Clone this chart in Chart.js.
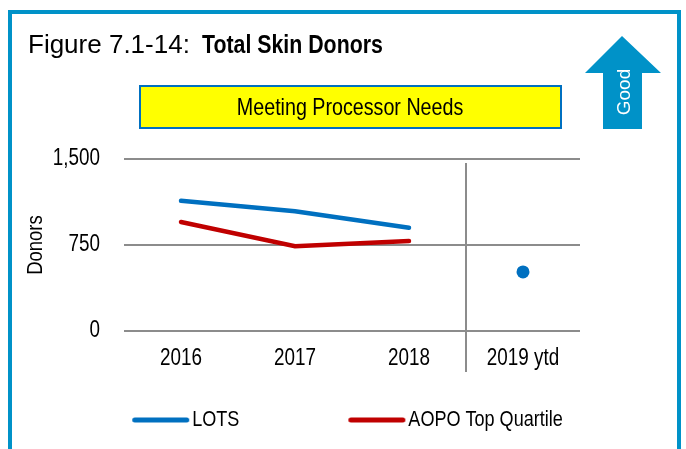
<!DOCTYPE html>
<html>
<head>
<meta charset="utf-8">
<script src="https://cdn.jsdelivr.net/npm/chart.js@4.4.1/dist/chart.umd.min.js"></script>
<style>
  html, body { margin: 0; padding: 0; background: #fff; }
  body { width: 686px; height: 449px; position: relative; overflow: hidden; }
  #frame { position: absolute; left: 8px; top: 10px; width: 673px; height: 500px; box-sizing: border-box; border: 4px solid #0092c8; }
  #title { position: absolute; left: 28px; top: 31px; font: 26px 'Liberation Sans', Arial, sans-serif; line-height: 26px; color: #000; white-space: nowrap; }
  #title b { display: inline-block; margin-left: 12px; transform: scaleX(0.82); transform-origin: left center; }
  #banner { position: absolute; left: 139px; top: 85px; width: 423px; height: 44px; box-sizing: border-box; border: 2px solid #0070c0; background: #ffff00; text-align: center; color: #000; }
  #banner span { display: inline-block; font: 24px 'Liberation Sans', Arial, sans-serif; line-height: 40px; transform: scaleX(0.82); }
  #good { position: absolute; left: 0; top: 0; }
  canvas { position: absolute; left: 0; top: 0; }
</style>
</head>
<body>
<canvas id="donorsChart" width="686" height="449"></canvas>
<div id="frame"></div>
<div id="title">Figure 7.1-14:<b>Total Skin Donors</b></div>
<div id="banner"><span>Meeting Processor Needs</span></div>
<svg id="good" width="686" height="449">
  <polygon points="622,36 661,73 642,73 642,129 603,129 603,73 585,73" fill="#0092c8"/>
  <text x="623" y="92" transform="rotate(-90 623 92)" text-anchor="middle" dominant-baseline="central" fill="#fff" font-family="Liberation Sans, Arial, sans-serif" font-size="19">Good</text>
</svg>
<script>
const years = ['2016', '2017', '2018', '2019 ytd']
const lotsDonors = [1135, 1045, 900, 515]
const aopoTopQuartile = [950, 740, 785, null]
const yTicks = [0, 750, 1500]

const lotsColor = '#0070c0'
const aopoColor = '#c00000'
const gridColor = '#8c8c8c'
const sans = "'Liberation Sans', Arial, sans-serif"
const condense = 0.82

// legend swatch: a rounded line sitting at the right end of a wide box
function legendLine(color) {
    const c = document.createElement('canvas')
    c.width = 170
    c.height = 10
    const g = c.getContext('2d')
    g.strokeStyle = color
    g.lineWidth = 5
    g.lineCap = 'round'
    g.beginPath()
    g.moveTo(112.5, 5)
    g.lineTo(164.5, 5)
    g.stroke()
    return c
}
const swatches = [legendLine(lotsColor), legendLine(aopoColor)]

// vertical divider between the full years and the year-to-date column
const divider = {
    id: 'divider',
    beforeDatasetsDraw(chart) {
        const x = chart.scales.x
        const area = chart.chartArea
        const px = (x.getPixelForValue(2) + x.getPixelForValue(3)) / 2
        const ctx = chart.ctx
        ctx.save()
        ctx.strokeStyle = gridColor
        ctx.lineWidth = 2
        ctx.beginPath()
        ctx.moveTo(px, area.top + 4)
        ctx.lineTo(px, area.bottom + 41)
        ctx.stroke()
        ctx.restore()
    }
}

const ctx = document.getElementById('donorsChart')

// no narrow font installed, so squeeze canvas text horizontally around its anchor
const c2d = ctx.getContext('2d')
const plainFill = c2d.fillText.bind(c2d)
const plainMeasure = c2d.measureText.bind(c2d)
c2d.fillText = function (text, x, y) {
    this.save()
    this.translate(x, y)
    this.scale(condense, 1)
    plainFill(text, 0, 0)
    this.restore()
}
c2d.measureText = function (text) {
    const m = plainMeasure(text)
    return { width: m.width * condense, actualBoundingBoxAscent: m.actualBoundingBoxAscent, actualBoundingBoxDescent: m.actualBoundingBoxDescent }
}

const donors_chart = new Chart(ctx, {
    type: 'line',
    data: {
        labels: years,
        datasets: [
            {
                label: 'LOTS',
                data: lotsDonors,
                borderColor: lotsColor,
                backgroundColor: lotsColor,
                borderWidth: 4.5,
                borderCapStyle: 'round',
                pointRadius: (c) => c.dataIndex === 3 ? 6.5 : 0,
                pointBorderWidth: 0,
                segment: {
                    borderColor: (c) => c.p0DataIndex === 2 ? 'rgba(0,0,0,0)' : undefined
                }
            },
            {
                label: 'AOPO Top Quartile',
                data: aopoTopQuartile,
                borderColor: aopoColor,
                backgroundColor: aopoColor,
                borderWidth: 4.5,
                borderCapStyle: 'round',
                pointRadius: 0
            }
        ]
    },
    options: {
        responsive: false,
        animation: false,
        layout: {
            padding: { left: 16, right: 106, top: 159, bottom: 8 }
        },
        scales: {
            x: {
                offset: true,
                grid: { display: false, drawTicks: false },
                border: { display: false },
                ticks: { color: '#000', padding: 14, font: { family: sans, size: 23 } },
                afterFit: (s) => { s.height = 68 }
            },
            y: {
                min: yTicks[0],
                max: yTicks[yTicks.length - 1],
                afterBuildTicks: (s) => { s.ticks = yTicks.map((v) => ({ value: v })) },
                grid: { color: gridColor, lineWidth: 2, drawTicks: false },
                border: { display: false },
                ticks: { color: '#000', padding: 24, font: { family: sans, size: 23 } },
                title: {
                    display: true,
                    text: 'Donors',
                    color: '#000',
                    padding: { top: 6, bottom: 0 },
                    font: { family: sans, size: 22.5 }
                },
                afterFit: (s) => { s.width = 108 }
            }
        },
        plugins: {
            legend: {
                position: 'bottom',
                labels: {
                    usePointStyle: true,
                    pointStyleWidth: 148,
                    padding: 10,
                    color: '#000',
                    font: { family: sans, size: 22 },
                    generateLabels(chart) {
                        const items = Chart.defaults.plugins.legend.labels.generateLabels(chart)
                        items.forEach((item, i) => { item.pointStyle = swatches[i] })
                        return items
                    }
                }
            },
            tooltip: { enabled: false }
        }
    },
    plugins: [divider]
})
</script>
</body>
</html>
